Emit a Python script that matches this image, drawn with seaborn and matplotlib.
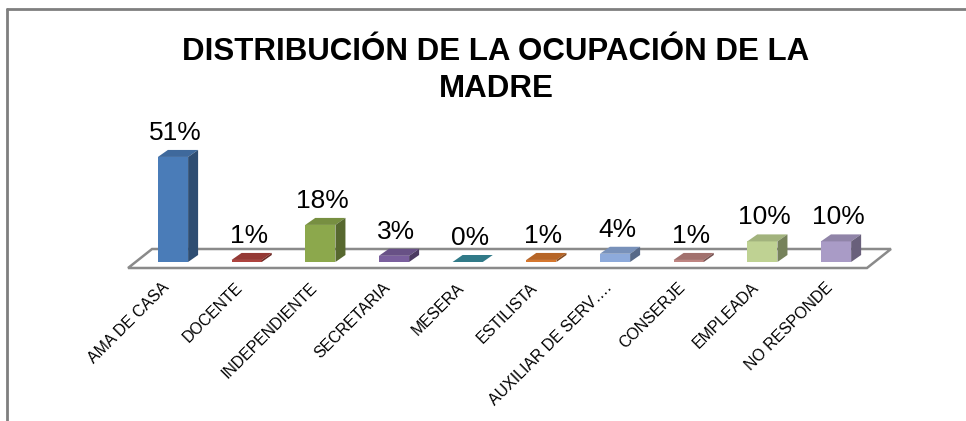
import matplotlib
matplotlib.use('Agg')
import matplotlib.pyplot as plt
import seaborn as sns
import pandas as pd
from matplotlib.patches import Polygon
from matplotlib.lines import Line2D
from matplotlib.transforms import ScaledTranslation

# Data
ocupaciones = ['AMA DE CASA', 'DOCENTE', 'INDEPENDIENTE', 'SECRETARIA', 'MESERA',
               'ESTILISTA', 'AUXILIAR DE SERV….', 'CONSERJE', 'EMPLEADA', 'NO RESPONDE']
porcentajes = [51, 1, 18, 3, 0, 1, 4, 1, 10, 10]
colores = ['#4A7CB8', '#AE433E', '#8CA84C', '#7A5F9E', '#3A8FA0',
           '#D6772E', '#8DAADB', '#BF8582', '#BFD293', '#A99BC6']

sns.set_theme(style='white')
plt.rcParams['font.family'] = ['Liberation Sans', 'DejaVu Sans']
plt.rcParams['text.color'] = 'black'

W, H = 966, 421
fig = plt.figure(figsize=(W / 100, H / 100), dpi=100)

# axes placed in pixel terms so the fake 3D depth is easy to size
ax_bot, ax_top = 272, 100
ax = fig.add_axes([0, (H - ax_bot) / H, 1, (ax_bot - ax_top) / H])
ax.patch.set_alpha(0)

px_x = 73.67   # pixels per category
px_y = 2.06    # pixels per percent
x0_px, y0_px = 173, 262

df = pd.DataFrame({'ocupacion': ocupaciones, 'pct': porcentajes})
sns.barplot(data=df, x='ocupacion', y='pct', hue='ocupacion', palette=colores,
            width=0.41, saturation=1, legend=False, ax=ax, zorder=2)

ax.set_xlim(-x0_px / px_x, (W - x0_px) / px_x)
ax.set_ylim(-(ax_bot - y0_px) / px_y, (y0_px - ax_top) / px_y)

dx = 10 / px_x
dy = 7 / px_y

# floor
n = len(ocupaciones)
fy0, fy1 = -6 / px_y, 13 / px_y
fdx = 24 / px_x
floor = Polygon([(-0.61, fy0), (n - 1 + 0.42, fy0), (n - 1 + 0.42 + fdx, fy1), (-0.61 + fdx, fy1)],
                closed=True, facecolor='white', edgecolor='#8a8a8a', lw=1.8, zorder=1)
ax.add_patch(floor)


def shade(c, f):
    return tuple(min(1, v * f) for v in c[:3])


for p, v in zip(list(ax.patches)[:n], porcentajes):
    x, w, h = p.get_x(), p.get_width(), p.get_height()
    c = p.get_facecolor()
    p.set_edgecolor('none')
    top = Polygon([(x, h), (x + w, h), (x + w + dx, h + dy), (x + dx, h + dy)],
                  closed=True, facecolor=shade(c, 0.85), edgecolor='none', zorder=3)
    side = Polygon([(x + w, 0), (x + w + dx, dy), (x + w + dx, h + dy), (x + w, h)],
                   closed=True, facecolor=shade(c, 0.62), edgecolor='none', zorder=3)
    ax.add_patch(top)
    ax.add_patch(side)
    ax.text(x + w / 2 + 2 / px_x, h + dy + 10 / px_y, f'{v}%', ha='center', va='baseline',
            fontsize=19, color='black')

ax.set_xlabel('')
ax.set_ylabel('')
ax.set_yticks([])
for s in ax.spines.values():
    s.set_visible(False)
ax.tick_params(axis='x', length=0, pad=6, labelsize=11.4, colors='black')
shift = ScaledTranslation(-0.06, -0.05, fig.dpi_scale_trans)
for lab in ax.get_xticklabels():
    lab.set_rotation(45)
    lab.set_ha('right')
    lab.set_va('center')
    lab.set_rotation_mode('anchor')
    lab.set_transform(lab.get_transform() + shift)

# title
fig.text(496 / W, 1 - 60 / H, 'DISTRIBUCIÓN DE LA OCUPACIÓN DE LA', ha='center', va='baseline',
         fontsize=22.5, fontweight='bold', color='black')
fig.text(496 / W, 1 - 97 / H, 'MADRE', ha='center', va='baseline',
         fontsize=22.5, fontweight='bold', color='black')

# chart frame
fig.add_artist(Line2D([7 / W, 1], [1 - 9 / H, 1 - 9 / H], color='#7f7f7f', lw=2))
fig.add_artist(Line2D([7 / W, 7 / W], [0, 1 - 9 / H], color='#7f7f7f', lw=2))

fig.savefig('out.png', dpi=100)
